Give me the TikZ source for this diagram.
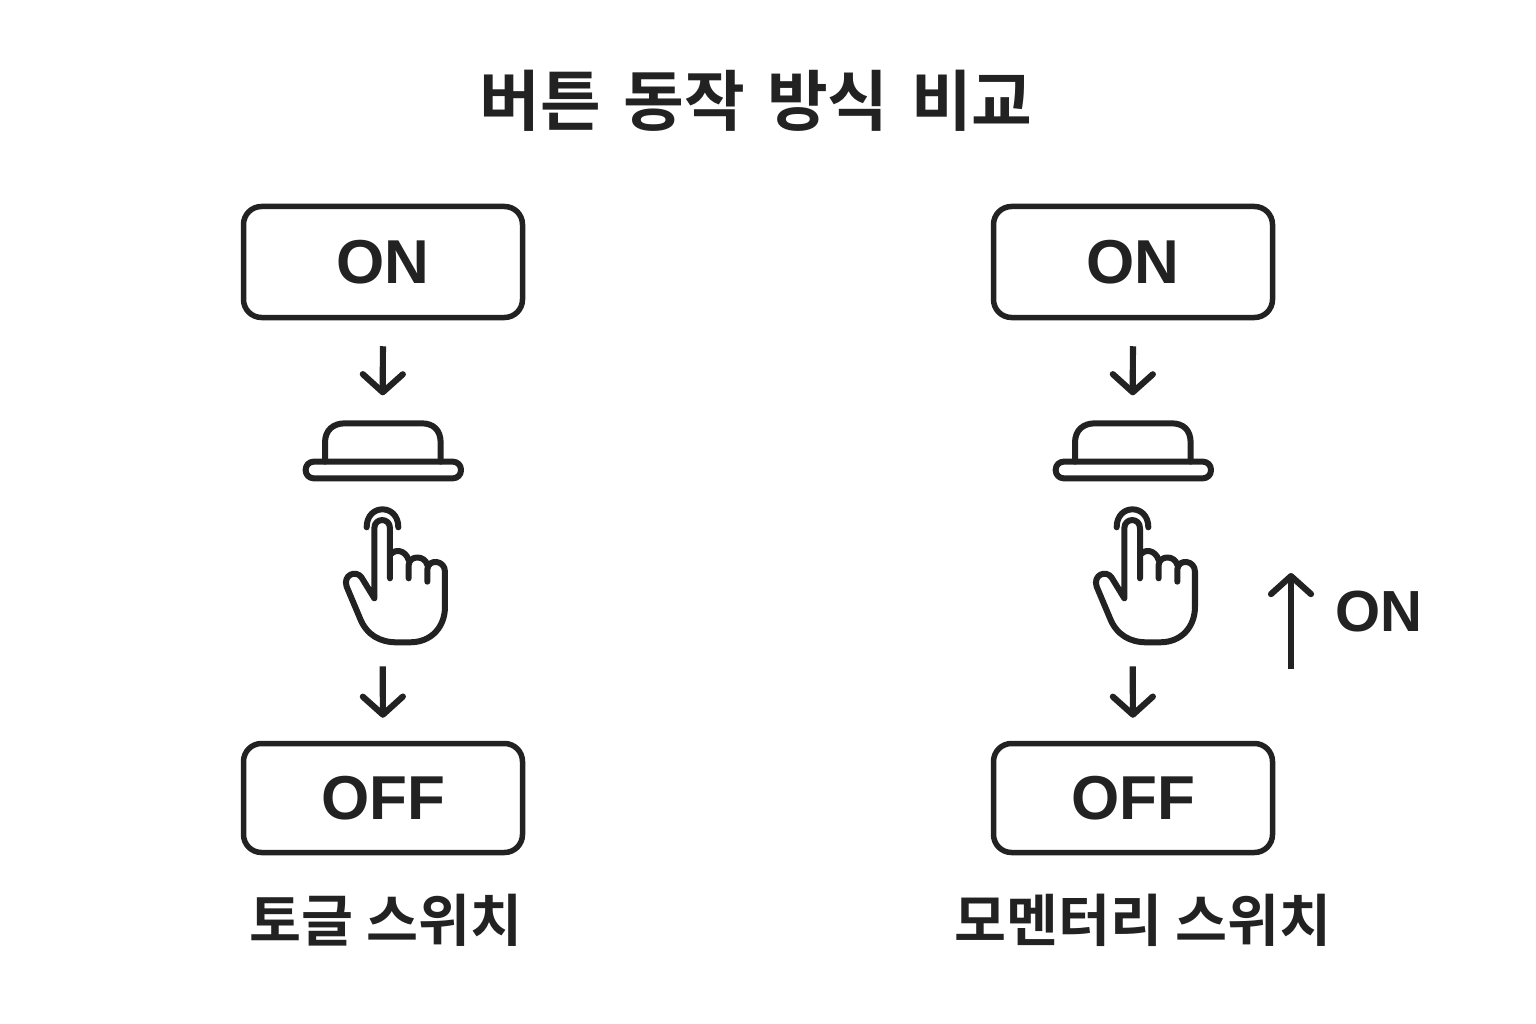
\documentclass[tikz,border=0pt]{standalone}
\usepackage{fontspec}
\usetikzlibrary{arrows.meta}
\newfontfamily\krfont{Noto Sans CJK KR}[BoldFont={Noto Sans CJK KR Bold}]
\newfontfamily\lafont{Liberation Sans}
\definecolor{ink}{HTML}{222222}
\tikzset{
  box/.style={draw=ink,line width=5.5pt,rounded corners=18pt,minimum width=279pt,inner sep=0pt,text=ink,font=\lafont\bfseries\fontsize{62}{62}\selectfont},
  icon/.style={draw=ink,line width=6pt,line cap=round,line join=round},
  flow/.style={draw=ink,line width=6.2pt,-{Straight Barb[length=18pt,width=40pt,line width=6.2pt,round]}},
  caption/.style={text=ink,font=\krfont\bfseries\fontsize{56.5}{56.5}\selectfont,inner sep=0pt},
  title/.style={text=ink,font=\krfont\bfseries\fontsize{66}{66}\selectfont,inner sep=0pt},
}
\newcommand{\switchcolumn}{%
  \node[box,minimum height=111pt] (on) at (383,262) {ON};
  \node[box,minimum height=109pt] (off) at (383,798) {OFF};
  % push button and hand, drawn in 3x units from the top left of the icon area
  \begin{scope}[shift={(290,410)},x=0.3333pt,y=-0.3333pt]
    \draw[icon] (105,155) -- (105,98) .. controls (105,60) and (130,40) .. (165,40) -- (395,40) .. controls (430,40) and (452,60) .. (452,98) -- (452,155);
    \draw[icon,rounded corners=8pt] (47,155) rectangle (513,205);
    \coordinate (btn) at (278,40);
    % hand
    \draw[icon] (230,352) .. controls (230,280) and (325,280) .. (325,352);
    \draw[icon] (300,505) -- (300,355) .. controls (300,322) and (253,322) .. (253,355) -- (253,565)
      -- (215,503) .. controls (198,478) and (158,495) .. (170,530)
      -- (210,625) .. controls (230,675) and (270,697) .. (320,697)
      -- (360,697) .. controls (425,697) and (465,650) .. (465,590)
      -- (465,485) .. controls (465,450) and (415,445) .. (412,478) -- (412,515);
    \draw[icon] (412,465) .. controls (405,435) and (358,435) .. (356,465) -- (356,505);
    \draw[icon] (356,450) .. controls (345,418) and (315,418) .. (302,432);
    \coordinate (hand) at (278,700);
  \end{scope}
  \draw[flow,shorten <=26pt,shorten >=28pt] (on.south) -- (btn);
  \draw[flow,shorten <=23pt,shorten >=23pt] (hand) -- (off.north);
}
\begin{document}
\begin{tikzpicture}[x=1pt,y=-1pt]
  \useasboundingbox[fill=white] (0,0) rectangle (1536,1024);
  \node[title] (ttl) at (756,101) {버튼\hspace{7.5pt} 동작\hspace{7.5pt} 방식\hspace{7.5pt} 비교};
  \begin{scope}[name prefix=L-]
    \switchcolumn
  \end{scope}
  \begin{scope}[shift={(750,0)},name prefix=R-]
    \switchcolumn
  \end{scope}
  \node[caption] (capL) at (386,920) {토글 스위치};
  \node[caption] (capR) at (1143,920) {모멘터리 스위치};
  \coordinate (upa) at (1291,669);
  \coordinate (upb) at (1291,573);
  \draw[flow] (upa) -- (upb);
  \node[text=ink,font=\lafont\bfseries\fontsize{58}{58}\selectfont,inner sep=0pt] (onlbl) at (1379,612) {ON};
\end{tikzpicture}
\end{document}
